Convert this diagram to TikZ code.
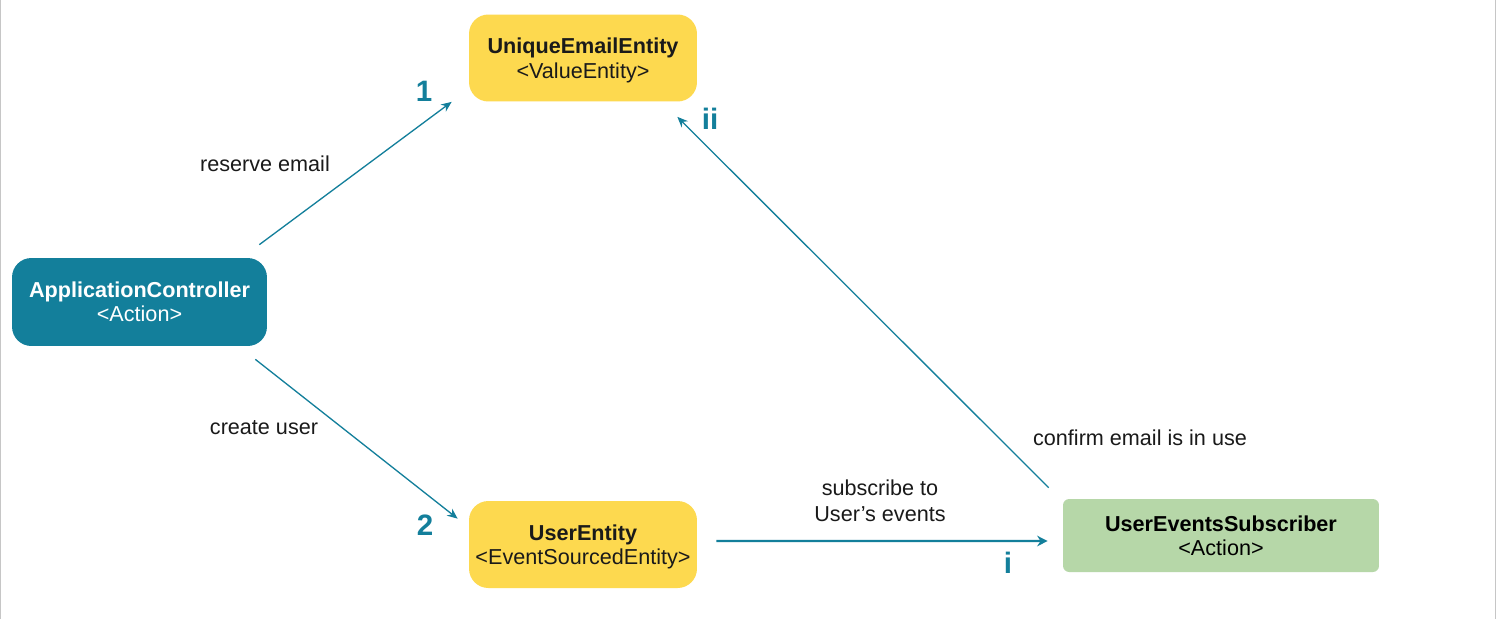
\documentclass[tikz,border=0pt]{standalone}
\usepackage{fontspec}
\setmainfont{Liberation Sans}
\usetikzlibrary{calc,arrows.meta}
\definecolor{teal1}{HTML}{137F9B}
\definecolor{yel}{HTML}{FDD94F}
\definecolor{grn}{HTML}{B6D7A8}
\definecolor{txt}{HTML}{1A1A1A}
\tikzset{
  box/.style={rounded corners=11pt, inner sep=0pt, align=center, font=\fontsize{12.3}{13.8}\selectfont, text=txt},
  ybox/.style={box, fill=yel, minimum width=4.56cm, minimum height=1.74cm},
  ytext/.style={yshift=-0.05cm, align=center, font=\fontsize{12.3}{13.8}\selectfont, text=txt, inner sep=0pt},
  conn/.style={draw=teal1, line width=0.75pt, -{Stealth[length=6pt,width=5pt]}},
  lbl/.style={font=\fontsize{12.3}{14.5}\selectfont, text=txt, align=center},
  num/.style={font=\fontsize{16.8}{17}\selectfont\bfseries, text=teal1}
}
\begin{document}
\begin{tikzpicture}[x=0.02cm,y=-0.02cm]
\useasboundingbox (0,0) rectangle (1497,619);
\fill[white] (0,0) rectangle (1497,619);
\draw[gray!45, line width=0.8pt] (0.5,0) -- (0.5,619);
\draw[gray!45, line width=0.8pt] (1495.5,0) -- (1495.5,619);

\node[ybox, label={[ytext]center:\textbf{UniqueEmailEntity}\\<ValueEntity>}] (ue) at (583,58) {};
\node[ybox, label={[ytext]center:\textbf{UserEntity}\\<EventSourcedEntity>}] (us) at (583,544.5) {};
\node[box, fill=teal1, text=white, minimum width=5.1cm, minimum height=1.76cm] (ac) at (139.5,302) {\textbf{ApplicationController}\\<Action>};
\node[box, rounded corners=3.5pt, fill=grn, text=black, minimum width=6.32cm, minimum height=1.46cm] (ues) at (1221,535.5) {\textbf{UserEventsSubscriber}\\<Action>};

\draw[conn] ($(ac.north east)+(-8,-13)$) -- ($(ue.south west)+(-17,0)$);
\draw[conn] ($(ac.south east)+(-12,13)$) -- ($(us.north west)+(-11,18)$);
\draw[conn, line width=1.4pt, -{Stealth[length=6pt,width=6pt]}] ($(us.east)+(19,-3.5)$) -- ($(ues.west)+(-15,5.5)$);
\draw[conn] ($(ues.north west)+(-14,-11)$) -- ($(ue.south east)+(-20,15)$);

\node[lbl] (l1) at (265,164) {reserve email};
\node[lbl] (l2) at (264,428) {create user};
\node[lbl] (l3) at (880,501) {subscribe to\\User’s events};
\node[lbl] (l4) at (1140,438) {confirm email is in use};

\node[num] (n1) at (424,91) {1};
\node[num] (n2) at (710,119) {ii};
\node[num] (n3) at (425,525) {2};
\node[num] (n4) at (1008,563) {i};
\end{tikzpicture}
\end{document}
